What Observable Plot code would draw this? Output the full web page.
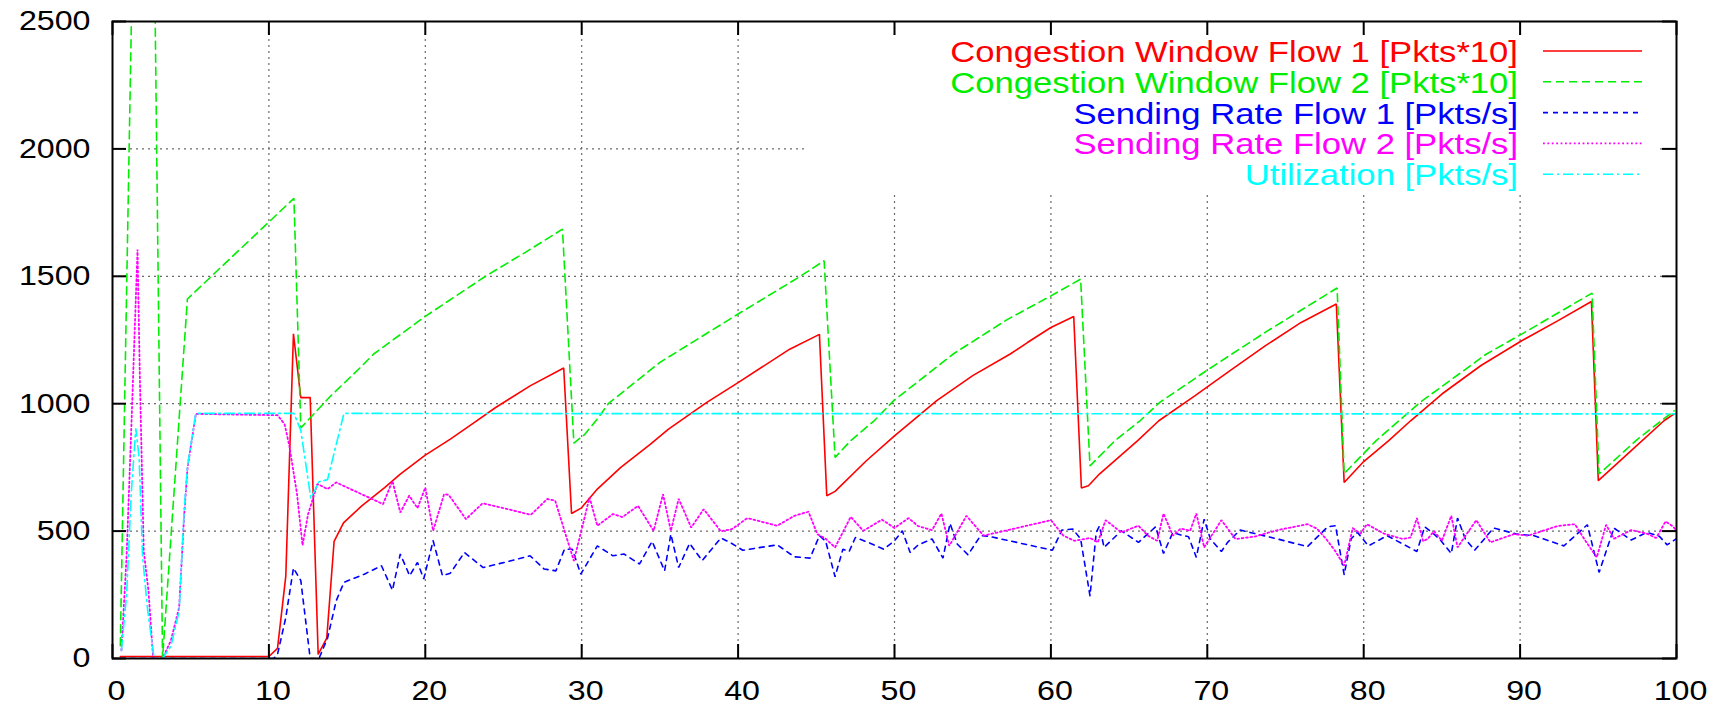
<!DOCTYPE html>
<html><head><meta charset="utf-8">
<script src="https://cdn.jsdelivr.net/npm/d3@7"></script>
<script src="https://cdn.jsdelivr.net/npm/@observablehq/plot@0.6"></script>
<style>
html,body{margin:0;padding:0;background:#fff;}
#wrap{position:relative;width:1717px;height:707px;overflow:hidden;}
#legend{position:absolute;left:0;top:0;pointer-events:none;}
</style></head><body>
<div id="wrap"></div>
<script>
// ---- data (time [s], value) ----
const xTicks = [0,10,20,30,40,50,60,70,80,90,100];
const yTicks = [0,500,1000,1500,2000,2500];
const seriesLabels = [
  "Congestion Window Flow 1 [Pkts*10]",
  "Congestion Window Flow 2 [Pkts*10]",
  "Sending Rate Flow 1 [Pkts/s]",
  "Sending Rate Flow 2 [Pkts/s]",
  "Utilization [Pkts/s]"
];
const cwnd1 = [
  [0.5,8],[10.0,8],[10.55,40],[11.08,323],[11.57,1274],[12.04,1024],[12.64,1024],[13.15,16],[13.7,80],
  [14.17,460],[14.77,532],[15.9,597],[17.4,671],[18.4,724],[20.0,798],[21.6,861],[23.1,925],[24.5,985],
  [26.7,1070],[28.85,1140],[29.35,569],[29.96,590],[31.0,665],[32.5,750],[34.4,841],[35.55,900],[38.0,1005],
  [40.0,1083],[43.3,1214],[45.2,1272],[45.67,639],[46.2,656],[48.2,776],[50.0,874],[52.7,1012],[55.0,1110],
  [57.4,1195],[58.5,1240],[60.0,1299],[61.46,1342],[61.95,669],[62.4,678],[63.1,724],[65.55,855],[66.9,933],
  [69.2,1031],[71.5,1132],[73.7,1227],[76.0,1319],[78.25,1391],[78.75,691],[80.0,773],[81.6,855],[83.0,933],
  [85.0,1038],[87.5,1150],[90.1,1247],[92.4,1325],[94.56,1401],[95.0,698],[97.0,810],[99.2,933],[99.85,960]
];
const cwnd2 = [
  [0.5,50],[2.13,5700],[3.2,0],[4.79,1411],[11.6,1806],[12.04,905],[13.96,1031],[15.9,1145],[16.7,1195],
  [20.05,1345],[23.9,1502],[26.4,1594],[28.77,1685],[29.5,845],[30.2,880],[31.0,940],[31.7,1000],[35.0,1162],
  [40.0,1352],[43.85,1495],[45.5,1561],[46.2,789],[47.2,855],[48.7,933],[49.95,1012],[53.8,1197],[57.2,1330],
  [60.0,1423],[61.9,1489],[62.5,756],[64.1,855],[65.7,933],[66.96,1005],[70.1,1136],[73.7,1280],[78.3,1454],
  [78.75,726],[80.8,855],[83.6,1005],[87.85,1195],[90.1,1273],[94.6,1434],[95.05,724],[97.5,860],[99.85,972]
];
const rate1 = [
  [0.5,0],[10.3,0],[10.55,16],[11.08,161],[11.57,355],[12.04,306],[12.64,0],[13.2,0],[13.75,80],[14.3,226],
  [14.8,299],[16.1,331],[17.2,364],[17.9,268],[18.4,410],[19.0,325],[19.5,377],[19.9,312],[20.5,462],[21.1,325],
  [21.6,335],[22.5,416],[23.7,357],[25.05,377],[26.7,403],[27.6,351],[28.35,344],[28.9,429],[29.4,429],[29.94,331],
  [31.0,442],[32.0,403],[32.7,410],[33.7,371],[34.5,460],[35.3,344],[35.7,488],[36.2,357],[36.9,452],[37.7,384],
  [38.9,473],[39.5,455],[40.3,425],[42.5,446],[43.6,399],[44.6,394],[45.2,482],[45.6,460],[46.2,321],[46.7,429],
  [47.1,420],[47.5,475],[48.3,456],[49.3,429],[50.0,462],[50.5,501],[51.0,416],[51.5,445],[52.4,469],[53.1,394],
  [53.55,530],[54.0,450],[54.7,407],[55.5,482],[56.0,480],[60.1,425],[60.7,504],[61.4,508],[61.9,469],[62.5,246],
  [62.9,495],[63.1,520],[63.4,436],[64.5,501],[65.6,456],[66.7,517],[67.2,412],[67.8,495],[68.3,485],[68.8,478],
  [69.3,397],[69.8,547],[70.2,469],[70.9,420],[71.3,456],[72.1,504],[74.5,469],[76.4,439],[77.7,517],[78.2,521],
  [78.75,329],[79.2,470],[79.6,495],[80.3,442],[81.5,482],[83.4,420],[83.9,517],[84.5,488],[84.9,465],[85.6,412],
  [86.0,551],[86.5,469],[87.1,425],[88.3,512],[89.8,488],[90.9,482],[92.8,442],[94.3,525],[95.05,338],[96.0,512],
  [97.1,465],[98.1,495],[98.9,480],[99.4,446],[100,470]
];
const rate2 = [
  [0.57,32],[0.9,400],[1.2,900],[1.6,1605],[1.75,1100],[2.0,420],[2.3,266],[2.6,0],[3.2,0],[3.73,70],[4.26,200],
  [4.58,560],[4.8,750],[5.33,960],[10.55,955],[11.0,920],[11.3,837],[11.8,645],[12.15,444],[12.5,565],[13.1,685],
  [13.75,665],[14.3,691],[16.1,640],[17.3,606],[17.9,697],[18.4,573],[18.97,639],[19.5,590],[20.0,671],[20.5,501],
  [21.2,645],[21.5,642],[22.6,547],[23.66,609],[25.0,590],[26.75,564],[27.8,626],[28.3,620],[29.5,383],[30.5,632],
  [31.0,521],[32.0,567],[32.6,555],[33.6,599],[34.6,501],[35.2,645],[35.7,501],[36.2,627],[37.0,514],[37.8,586],
  [38.9,499],[39.6,508],[40.6,551],[42.5,521],[43.6,560],[44.5,576],[45.07,488],[45.6,470],[46.2,436],[47.2,556],
  [48.0,501],[49.2,545],[50.0,512],[50.9,551],[51.5,520],[52.4,504],[53.0,569],[53.5,442],[54.6,560],[55.7,482],
  [60.0,543],[60.8,482],[61.5,462],[62.5,473],[63.0,456],[63.5,543],[64.5,495],[65.6,521],[66.2,482],[66.8,462],
  [67.2,569],[67.8,482],[68.3,510],[68.9,501],[69.3,569],[69.8,436],[70.9,543],[71.8,469],[73.0,478],[74.5,504],
  [76.4,527],[77.0,510],[77.6,469],[78.2,420],[78.75,364],[79.3,512],[79.8,490],[80.2,527],[81.3,490],[82.5,469],
  [83.0,475],[83.4,551],[83.8,460],[84.1,470],[84.5,500],[85.0,462],[85.6,560],[86.0,436],[86.6,490],[87.2,543],
  [88.1,456],[89.6,488],[90.5,482],[92.4,520],[93.5,527],[94.2,460],[94.9,397],[95.5,525],[96.0,470],[97.1,504],
  [98.1,490],[98.7,473],[99.3,538],[99.8,517],[100,500]
];
const util = [
  [0.57,32],[0.9,250],[1.2,650],[1.49,903],[1.7,790],[1.92,403],[2.24,194],[2.66,0],[3.2,0],[3.73,48],[4.26,185],
  [4.58,580],[4.8,758],[5.33,962],[11.6,962],[12.04,895],[12.68,629],[13.2,694],[13.75,702],[14.3,839],[14.8,962],
  [30,961],[50,961],[70,960],[100,960]
];

// ---- styles ----
const seriesStyles = [
  {data: cwnd1, stroke: "#ff0000", dash: null,        width: 1.6},
  {data: cwnd2, stroke: "#00ee00", dash: "8,5",       width: 1.6},
  {data: rate1, stroke: "#0000ff", dash: "5,5",       width: 1.6},
  {data: rate2, stroke: "#ff00ff", dash: "1.8,2.6",   width: 1.8},
  {data: util,  stroke: "#00ffff", dash: "10,4,2,4",  width: 1.6}
];

const W = 1717, H = 707, mL = 112, mR = 41, mT = 21, mB = 49;
const innerW = W - mL - mR, innerH = H - mT - mB, tick = 14;
const FONT = "'Liberation Sans', Arial, Helvetica, sans-serif";
const gridStyle = {stroke: "#6a6a6a", strokeOpacity: 1, strokeWidth: 1.2, strokeDasharray: "2,4"};

const lineMarks = seriesStyles.map(s => Plot.line(s.data, {
  x: d => d[0], y: d => d[1], stroke: s.stroke, strokeWidth: s.width,
  strokeDasharray: s.dash, clip: true, strokeLinejoin: "miter"
}));

const chart = Plot.plot({
  width: W, height: H,
  marginLeft: mL, marginRight: mR, marginTop: mT, marginBottom: mB,
  x: {domain: [0, 100], label: null},
  y: {domain: [0, 2500], label: null},
  style: {fontFamily: FONT, fontSize: "28px", background: "white", color: "black", overflow: "visible"},
  marks: [
    Plot.gridX(xTicks.slice(1, -1), gridStyle),
    Plot.gridY(yTicks.slice(1, -1), gridStyle),
    ...lineMarks,
    Plot.ruleX(xTicks, {stroke: "black", strokeWidth: 2, insetTop: innerH - tick}),
    Plot.ruleX(xTicks, {stroke: "black", strokeWidth: 2, insetBottom: innerH - tick}),
    Plot.ruleY(yTicks, {stroke: "black", strokeWidth: 2, insetRight: innerW - tick}),
    Plot.ruleY(yTicks, {stroke: "black", strokeWidth: 2, insetLeft: innerW - tick}),
    Plot.frame({stroke: "black", strokeWidth: 2}),
    Plot.axisX({ticks: xTicks, tickFormat: d => String(d), tickSize: 0, tickPadding: 22, dx: 4, label: null, fontSize: 28}),
    Plot.axisY({ticks: yTicks, tickFormat: d => String(d), tickSize: 0, tickPadding: 22, label: null, fontSize: 28})
  ]
});

// widen tick labels (reference font is wider than Arial)
d3.select(chart).selectAll('g[aria-label$="tick label"] text').each(function() {
  const tr = this.getAttribute("transform") || "";
  this.setAttribute("transform", tr + " scale(1.15,1)");
});

const wrap = document.getElementById("wrap");
wrap.appendChild(chart);

// ---- legend (opaque key box, gnuplot style) ----
const leg = d3.select(wrap).append("svg").attr("id", "legend")
  .attr("width", W).attr("height", H);
leg.append("rect").attr("x", 806).attr("y", 36).attr("width", 854).attr("height", 159).attr("fill", "white");
const rowY0 = 62, rowDy = 30.8, textRight = 1518, sampleX0 = 1543, sampleX1 = 1642;
seriesLabels.forEach((lab, i) => {
  const s = seriesStyles[i];
  const by = rowY0 + i * rowDy;
  leg.append("text")
    .attr("transform", `translate(${textRight},${by}) scale(1.17,1)`)
    .attr("text-anchor", "end")
    .attr("font-family", FONT).attr("font-size", 29.6)
    .attr("fill", s.stroke)
    .text(lab);
  leg.append("line")
    .attr("x1", sampleX0).attr("x2", sampleX1).attr("y1", by - 11).attr("y2", by - 11)
    .attr("stroke", s.stroke).attr("stroke-width", s.width)
    .attr("stroke-dasharray", s.dash);
});
</script>
</body></html>
